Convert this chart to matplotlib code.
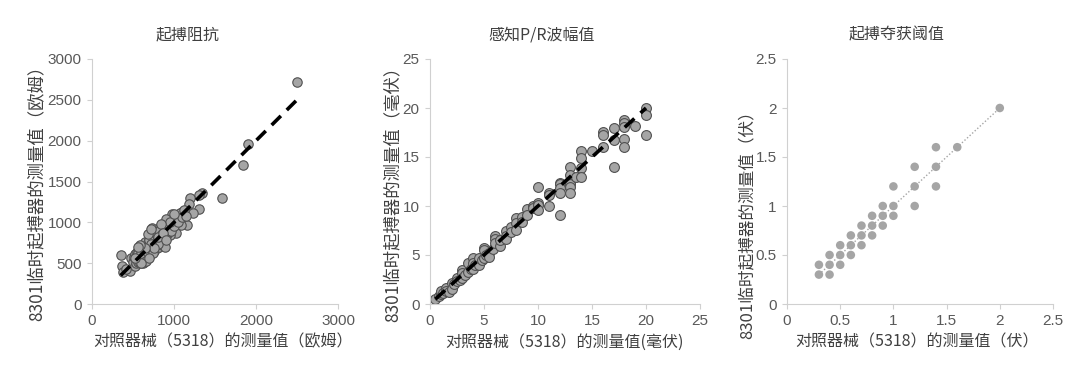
import matplotlib
matplotlib.use("Agg")
import matplotlib.pyplot as plt
import matplotlib.ticker as mticker

plt.rcParams['font.family'] = ['Noto Sans CJK SC', 'DejaVu Sans']

# data: 起搏阻抗 (欧姆)
imp_ref = [350, 370, 375, 460, 420, 480, 2500, 1900, 1840, 1580, 1340, 1300, 1300, 1230, 1200,
           1180, 1100, 1160, 1080, 1030, 980, 950, 870, 830, 730,
           500, 510, 520, 530, 540, 550, 555, 560, 570, 575, 580, 590, 600, 600, 610, 615, 620,
           630, 640, 650, 650, 660, 670, 680, 690, 700, 700, 710, 720, 730, 740, 750, 760, 770,
           780, 790, 800, 810, 820, 830, 840, 850, 860, 870, 880, 890, 900, 910, 920, 930, 940,
           960, 980, 1000, 1020, 1050, 1070, 1100, 1120, 1150,
           540, 560, 580, 600, 620, 640, 660, 680, 700, 720, 740, 760, 780, 800, 820, 850, 880,
           900, 950, 1000,
           620, 640, 660, 600, 700, 720, 760, 800, 680, 650, 580, 530, 560, 720, 840, 870, 900]
imp_dev = [600, 460, 390, 400, 430, 560, 2720, 1960, 1700, 1300, 1360, 1340, 1160, 1120, 1300,
           1220, 1130, 970, 970, 870, 1100, 850, 750, 870, 930,
           520, 580, 470, 610, 500, 640, 560, 520, 690, 600, 500, 650, 560, 700, 520, 620, 680,
           560, 720, 590, 760, 640, 700, 560, 780, 650, 720, 600, 800, 690, 760, 650, 840, 720,
           800, 680, 880, 760, 700, 940, 820, 720, 900, 800, 980, 700, 930, 860, 1000, 880, 980,
           900, 1040, 960, 1080, 1000, 1120, 1060, 1150, 1080,
           580, 620, 560, 620, 540, 600, 700, 620, 780, 680, 620, 730, 880, 740, 900, 860, 820,
           1040, 1000, 1100,
           500, 510, 530, 500, 560, 740, 680, 820, 860, 680, 720, 560, 700, 920, 980, 870, 780]

# data: 感知P/R波幅值 (毫伏)
amp_ref = [0.5, 0.8, 1, 1, 1.2, 1.5, 1.5, 1.8, 2, 2, 2.2, 2.5, 2.5, 2.8, 3, 3, 3, 3.2, 3.5, 3.5,
           3.8, 4, 4, 4, 4.2, 4.5, 4.5, 4.8, 5, 5, 5, 5.2, 5.5, 5.5, 5.8, 6, 6, 6, 6.5, 6.5,
           7, 7, 7, 7.5, 7.5, 8, 8, 8, 8.5, 8.5, 9, 9, 9.5, 9.5, 10, 10, 10, 10, 11, 11, 11,
           12, 12, 12, 12, 12, 13, 13, 13, 13, 13, 13, 13.5, 14, 14, 14, 14, 15, 16, 16, 16,
           17, 17, 17, 18, 18, 18, 18, 18, 19, 20, 20, 20]
amp_dev = [0.5, 0.8, 1.0, 1.3, 1.1, 1.6, 1.3, 1.2, 2.1, 1.5, 2.0, 2.7, 2.3, 2.5, 3.5, 3.2, 2.7,
           3.0, 4.2, 3.3, 3.6, 4.7, 4.2, 3.6, 4.0, 4.7, 4.0, 4.5, 5.7, 5.5, 4.7, 5.0, 5.2, 4.8,
           5.6, 6.9, 6.6, 6.2, 5.9, 6.5, 7.5, 6.9, 6.6, 7.9, 7.3, 8.8, 8.3, 7.6, 8.9, 8.4, 9.7,
           9.1, 10.0, 9.8, 11.9, 10.3, 10.1, 9.6, 11.3, 11.1, 10.0, 12.3, 12.2, 11.8, 11.3, 9.1,
           14.0, 13.2, 12.5, 12.2, 11.9, 11.3, 13.0, 15.6, 14.9, 13.9, 13.0, 15.6, 17.6, 17.2,
           16.0, 18.0, 16.7, 14.0, 18.8, 18.5, 18.1, 16.8, 16.0, 18.2, 20.0, 19.3, 17.2]

# data: 起搏夺获阈值 (伏)
thr_ref = [0.3, 0.3, 0.4, 0.4, 0.4, 0.5, 0.5, 0.5, 0.6, 0.6, 0.6, 0.7, 0.7, 0.7, 0.8, 0.8, 0.8,
           0.9, 0.9, 0.9, 1.0, 1.0, 1.0, 1.2, 1.2, 1.2, 1.4, 1.4, 1.4, 1.6, 2.0]
thr_dev = [0.3, 0.4, 0.3, 0.4, 0.5, 0.4, 0.5, 0.6, 0.5, 0.6, 0.7, 0.6, 0.7, 0.8, 0.7, 0.8, 0.9,
           0.8, 0.9, 1.0, 0.9, 1.0, 1.2, 1.0, 1.2, 1.4, 1.2, 1.4, 1.6, 1.6, 2.0]

titles = ['起搏阻抗', '感知P/R波幅值', '起搏夺获阈值']
xlabels = ['对照器械（5318）的测量值（欧姆）', '对照器械（5318）的测量值(毫伏)', '对照器械（5318）的测量值（伏）']
ylabels = ['8301临时起搏器的测量值（欧姆）', '8301临时起搏器的测量值（毫伏）', '8301临时起搏器的测量值（伏）']

W, H = 1080, 365
fig = plt.figure(figsize=(10.8, 3.65), dpi=100)

# axes boxes in pixels: left, right, top, bottom
boxes = [(92, 338, 59, 304), (430, 700, 59, 304), (787, 1053, 59, 304)]
axes = []
for (l, r, t, b) in boxes:
    ax = fig.add_axes([l / W, 1 - b / H, (r - l) / W, (b - t) / H])
    axes.append(ax)

grey = '#a5a5a5'
spine_c = '#d0d0d0'
tick_c = '#595959'

# panel 1
ax = axes[0]
ax.scatter(imp_ref, imp_dev, s=46, c=grey, edgecolors='#505050', linewidths=0.8, zorder=2)
ax.plot([350, 2500], [350, 2500], color='black', lw=2.6, ls=(0, (3.6, 2.3)), zorder=3)
ax.set_xlim(0, 3000)
ax.set_ylim(0, 3000)
ax.set_xticks([0, 1000, 2000, 3000])
ax.set_yticks(range(0, 3001, 500))

# panel 2
ax = axes[1]
ax.scatter(amp_ref, amp_dev, s=50, c=grey, edgecolors='#505050', linewidths=0.8, zorder=2)
ax.plot([0.5, 20], [0.5, 20], color='black', lw=2.6, ls=(0, (3.6, 2.3)), zorder=3)
ax.set_xlim(0, 25)
ax.set_ylim(0, 25)
ax.set_xticks(range(0, 26, 5))
ax.set_yticks(range(0, 26, 5))

# panel 3
ax = axes[2]
ax.scatter(thr_ref, thr_dev, s=38, c=grey, edgecolors='none', zorder=2)
ax.plot([0.3, 2.0], [0.3, 2.0], color='#a5a5a5', lw=1.0, ls=(0, (1, 1.5)), zorder=1)
ax.set_xlim(0, 2.5)
ax.set_ylim(0, 2.5)
ax.set_xticks([0, 0.5, 1, 1.5, 2, 2.5])
ax.set_yticks([0, 0.5, 1, 1.5, 2, 2.5])
ax.xaxis.set_major_formatter(mticker.StrMethodFormatter('{x:g}'))
ax.yaxis.set_major_formatter(mticker.StrMethodFormatter('{x:g}'))

for ax in axes:
    ax.spines['top'].set_visible(False)
    ax.spines['right'].set_visible(False)
    ax.spines['left'].set_color(spine_c)
    ax.spines['bottom'].set_color(spine_c)
    ax.tick_params(direction='out', length=3.5, width=0.8, color=spine_c,
                   labelcolor=tick_c, labelsize=11, pad=4)
    for lab in ax.get_xticklabels() + ax.get_yticklabels():
        lab.set_family(['Liberation Sans', 'DejaVu Sans'])

# titles and axis labels placed in pixel positions
title_x = [188, 542, 897]
xlab_x = [223, 564, 917]
ylab_pos = [(37, 189, 12.5), (393, 190, 12.5), (747, 221, 12)]
for i in range(3):
    fig.text(title_x[i] / W, 1 - 35 / H, titles[i], ha='center', va='center',
             fontsize=11.5, color='#404040')
    fig.text(xlab_x[i] / W, 1 - 342 / H, xlabels[i], ha='center', va='center',
             fontsize=11.5, color='#404040')
    yx, yy, fs = ylab_pos[i]
    fig.text(yx / W, 1 - yy / H, ylabels[i], ha='center', va='center', rotation=90,
             fontsize=fs, color='#404040')

fig.savefig('out.png', dpi=100, facecolor='white')
